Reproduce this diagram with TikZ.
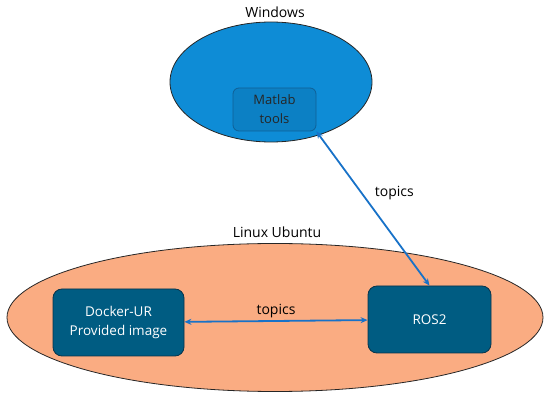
\documentclass[tikz,border=0pt]{standalone}
\usepackage{fontspec}
\setmainfont{Open Sans}
\usetikzlibrary{arrows.meta, positioning, shapes.geometric}
\definecolor{winblue}{RGB}{14,140,214}
\definecolor{matblue}{RGB}{12,128,196}
\definecolor{matline}{RGB}{16,96,150}
\definecolor{linorange}{RGB}{250,172,130}
\definecolor{boxteal}{RGB}{0,92,130}
\definecolor{boxline}{RGB}{8,52,74}
\definecolor{arrowblue}{RGB}{24,114,200}
\tikzset{
  osblob/.style={ellipse, draw=black!85, line width=0.8pt, inner sep=0pt},
  oslabel/.style={font=\fontsize{14}{17}\selectfont, text=black},
  appbox/.style={rectangle, rounded corners=9pt, draw=boxline, line width=0.8pt,
    fill=boxteal, text=white, align=center, font=\fontsize{13.5}{19}\selectfont},
  link/.style={{Stealth[length=7pt,width=6pt]}-{Stealth[length=7pt,width=6pt]},
    draw=arrowblue, line width=1.8pt}
}
\begin{document}
\begin{tikzpicture}[x=1pt, y=-1pt]
  \useasboundingbox (0,0) rectangle (550,401);
  % the two machines
  \node[osblob, fill=winblue, minimum width=202pt, minimum height=120pt] (win) at (271,82) {};
  \node[oslabel] (winlbl) at (275,12) {Windows};
  \node[osblob, fill=linorange, minimum width=536pt, minimum height=148pt] (lin) at (275,317.5) {};
  \node[oslabel] (linlbl) at (277,232) {Linux Ubuntu};
  % applications
  \node[appbox, fill=matblue, draw=matline, text=black!85, rounded corners=6pt,
    minimum width=83pt, minimum height=43pt, font=\fontsize{13}{19}\selectfont] (matlab) at (274.5,109.5) {Matlab\\tools};
  \node[appbox, minimum width=131pt, minimum height=67pt] (docker) at (118.5,322.5) {Docker-UR\\Provided image};
  \node[appbox, minimum width=123pt, minimum height=67pt] (ros) at (429.5,319.5) {ROS2};
  % topic links
  \draw[link] (matlab.south east) -- (ros.north)
    node[oslabel, pos=0.4, right=9pt] (toplbl) {topics};
  \draw[link] (docker) -- (ros)
    node[oslabel, midway, above=-1pt] (botlbl) {topics};
\end{tikzpicture}
\end{document}
